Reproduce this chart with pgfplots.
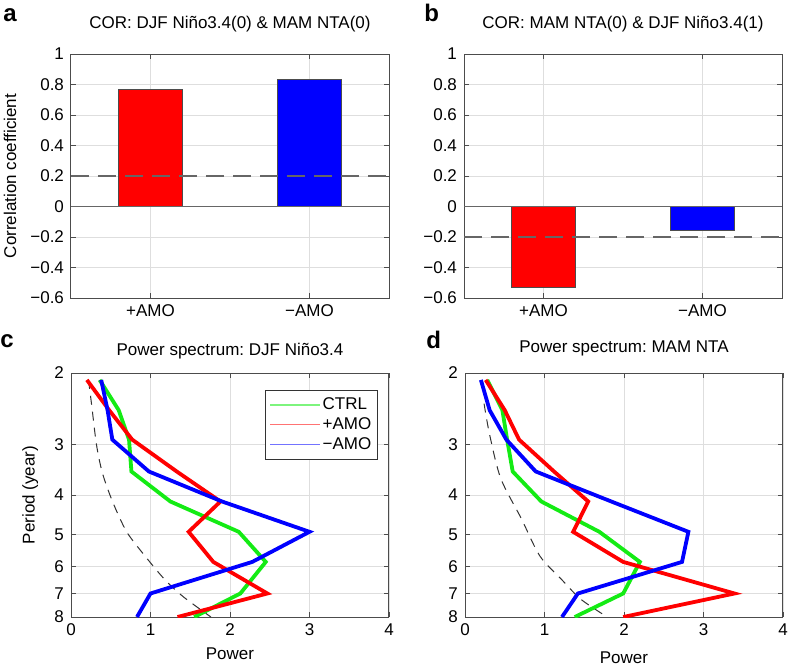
\documentclass[border=0pt]{standalone}
\usepackage{fontspec}
\setmainfont{Liberation Sans}
\usepackage{pgfplots}
\pgfplotsset{compat=1.18}
\frenchspacing

\definecolor{mgreen}{RGB}{20,235,20}
\definecolor{mred}{RGB}{255,0,0}
\definecolor{mblue}{RGB}{0,0,255}

\newcommand{\lab}{\fontsize{8.5}{10}\selectfont}

\pgfplotsset{
  panel/.style={
    scale only axis, width=159pt, height=122pt,
    anchor=south west,
    axis line style={black!70, line width=0.5pt},
    tick align=inside, major tick length=2.5pt,
    tick style={black!70, line width=0.4pt},
    grid=major, major grid style={black!13, line width=0.4pt},
    ticklabel style={font=\lab},
    label style={font=\lab},
    title style={font=\lab, at={(0.5,1)}, anchor=base},
  },
  barpanel/.style={
    panel,
    xmin=0.5, xmax=2.5, ymin=-0.6, ymax=1,
    xtick={1,2}, xticklabels={+AMO, −AMO},
    ytick={-0.6,-0.4,-0.2,0,0.2,0.4,0.6,0.8,1},
    yticklabels={−0.6,−0.4,−0.2,0,0.2,0.4,0.6,0.8,1},
    title style={yshift=7pt},
  },
  specpanel/.style={
    panel,
    xmin=0, xmax=4, xtick={0,1,2,3,4}, xticklabels={0,1,2,3,4},
    y dir=reverse, ymin=2, ymax=8,
    ytick={2,3,4,5,6,7,8}, yticklabels={2,3,4,5,6,7,8},
    minor ytick={},
    xlabel={Power},
  },
  spec/.style={line width=1.9pt},
  ref/.style={black!80, line width=0.5pt, dash pattern=on 4.5pt off 3.5pt},
}

\begin{document}
\begin{tikzpicture}
\path[use as bounding box] (0pt,0pt) rectangle (394pt,333pt);

% panel a
\begin{axis}[barpanel, at={(35.5pt,184pt)},
  ylabel={Correlation coefficient},
  ylabel style={at={(axis description cs:-0.192,0.5)}, anchor=center},
  title={COR: DJF Niño3.4(0) \& MAM NTA(0)}]
\addplot[ybar, bar width=0.4, bar shift=0pt, fill=mred, draw=black!70, line width=0.5pt] coordinates {(1,0.766)};
\addplot[ybar, bar width=0.4, bar shift=0pt, fill=mblue, draw=black!70, line width=0.5pt] coordinates {(2,0.83)};
\addplot[black!60, line width=0.5pt] coordinates {(0.5,0) (2.5,0)};
\addplot[black!60, line width=0.6pt, dash pattern=on 9pt off 4.5pt] coordinates {(0.5,0.2) (2.5,0.2)};
\end{axis}

% panel b
\begin{axis}[barpanel, at={(232pt,184pt)},
  title={COR: MAM NTA(0) \& DJF Niño3.4(1)}]
\addplot[ybar, bar width=0.4, bar shift=0pt, fill=mred, draw=black!70, line width=0.5pt] coordinates {(1,-0.533)};
\addplot[ybar, bar width=0.4, bar shift=0pt, fill=mblue, draw=black!70, line width=0.5pt] coordinates {(2,-0.16)};
\addplot[black!60, line width=0.5pt] coordinates {(0.5,0) (2.5,0)};
\addplot[black!60, line width=0.6pt, dash pattern=on 9pt off 4.5pt] coordinates {(0.5,-0.2) (2.5,-0.2)};
\end{axis}

% panel c
\begin{axis}[ymode=log, specpanel, at={(35.5pt,24.5pt)},
  ylabel={Period (year)},
  ylabel style={at={(axis description cs:-0.128,0.5)}, anchor=center},
  xlabel style={at={(axis description cs:0.5,-0.15)}, anchor=center},
  title={Power spectrum: DJF Niño3.4}, title style={yshift=3pt},
  legend style={at={(0.965,0.93)}, anchor=north east, draw=black!80, line width=0.5pt,
    font=\lab, inner xsep=2pt, inner ysep=1.5pt, row sep=-1.5pt,
    nodes={inner xsep=1pt}},
  legend cell align=left,
  legend image code/.code={\draw[line width=0.6pt, opacity=0.55] (0pt,0pt) -- (25pt,0pt);}]
\addplot[ref, smooth, forget plot] coordinates {
  (0.22,2.08) (0.26,2.4) (0.32,3.0) (0.39,3.5) (0.49,4.0) (0.60,4.5) (0.72,5.0)
  (0.96,5.75) (1.19,6.5) (1.42,7.15) (1.76,8)};
\addplot[spec, mgreen] coordinates {
  (0.36,2.08) (0.60,2.47) (0.73,2.92) (0.76,3.5) (1.25,4.15) (2.11,4.93) (2.45,5.85) (2.13,7) (1.55,8)};
\addplot[spec, mred] coordinates {
  (0.20,2.08) (0.48,2.47) (0.77,2.92) (1.33,3.5) (1.88,4.15) (1.48,4.93) (1.79,5.85) (2.47,7) (1.34,8)};
\addplot[spec, mblue] coordinates {
  (0.38,2.08) (0.46,2.47) (0.52,2.92) (0.98,3.5) (1.90,4.15) (3.00,4.93) (2.28,5.85) (1.00,7) (0.83,8)};
\legend{CTRL, +AMO, −AMO}
\end{axis}

% panel d
\begin{axis}[ymode=log, specpanel, at={(232.5pt,24.5pt)},
  xlabel style={at={(axis description cs:0.5,-0.168)}, anchor=center},
  title={Power spectrum: MAM NTA}, title style={yshift=4.2pt}]
\addplot[ref, smooth] coordinates {
  (0.24,2.38) (0.31,2.84) (0.45,3.64) (0.71,4.58) (0.94,5.65) (1.21,6.45) (1.46,7.24) (1.79,8)};
\addplot[spec, mgreen] coordinates {
  (0.28,2.08) (0.47,2.47) (0.53,2.92) (0.60,3.5) (0.96,4.15) (1.69,4.93) (2.20,5.85) (1.99,7) (1.38,8)};
\addplot[spec, mred] coordinates {
  (0.26,2.08) (0.50,2.47) (0.68,2.92) (1.12,3.5) (1.55,4.15) (1.36,4.93) (1.99,5.85) (3.39,7) (1.99,8)};
\addplot[spec, mblue] coordinates {
  (0.20,2.08) (0.31,2.47) (0.52,2.92) (0.89,3.5) (1.84,4.15) (2.81,4.93) (2.73,5.85) (1.42,7) (1.22,8)};
\end{axis}

% panel letters
\node[anchor=base west, inner sep=0pt, font=\fontsize{12}{14}\selectfont\bfseries] at (1.5pt,322.5pt) {a};
\node[anchor=base west, inner sep=0pt, font=\fontsize{12}{14}\selectfont\bfseries] at (212pt,322.5pt) {b};
\node[anchor=base west, inner sep=0pt, font=\fontsize{12}{14}\selectfont\bfseries] at (0pt,159.5pt) {c};
\node[anchor=base west, inner sep=0pt, font=\fontsize{12}{14}\selectfont\bfseries] at (213pt,159pt) {d};
\end{tikzpicture}
\end{document}
